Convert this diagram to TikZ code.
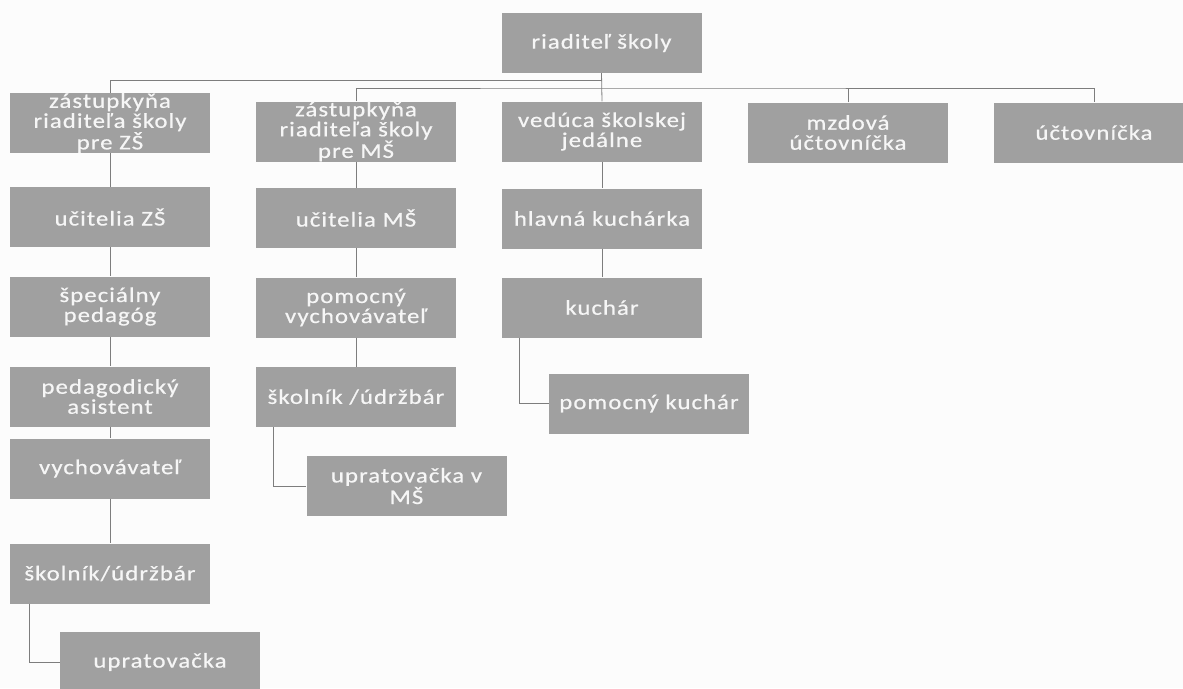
\documentclass[tikz,border=0pt]{standalone}
\usepackage{fontspec}
\setmainfont{Carlito}
\newfontfamily\boxfont{Carlito}[FakeStretch=1.18,LetterSpace=5,FakeBold=0.6]
\definecolor{boxgray}{RGB}{160,160,160}
\definecolor{linegray}{RGB}{125,125,125}
\definecolor{boxtext}{RGB}{246,246,246}
\definecolor{paper}{RGB}{252,252,252}

\begin{document}
\begin{tikzpicture}[x=1pt,y=-1pt,
    box/.style={fill=boxgray,text=boxtext,minimum width=200pt,minimum height=60pt,
      inner sep=0pt,align=center,font=\boxfont\fontsize{21}{20}\selectfont},
    link/.style={draw=linegray,line width=0.8pt}]
              \fill[paper] (0,0) rectangle (1183,688);
              \useasboundingbox (0,0) rectangle (1183,688);

              % top
              \node[box] (boss) at (601.5,43) {riaditeľ školy};

              % first row
              \node[box] (zsz) at (110,123) {zástupkyňa\\riaditeľa školy\\pre ZŠ};
              \node[box] (zms) at (356,131.5) {zástupkyňa\\riaditeľa školy\\pre MŠ};
              \node[box] (ved) at (602,131.5) {vedúca školskej\\jedálne};
              \node[box] (mzd) at (848,132.5) {mzdová\\účtovníčka};
              \node[box] (uct) at (1094,132.5) {účtovníčka};

              % ZS column
              \node[box] (uzs) at (110,217) {učitelia ZŠ};
              \node[box] (spp) at (110,306.5) {špeciálny\\pedagóg};
              \node[box] (pas) at (110,396.5) {pedagodický\\asistent};
              \node[box] (vyc) at (110,468.5) {vychovávateľ};
              \node[box] (skz) at (110,573.5) {školník/údržbár};
              \node[box] (upz) at (160,662) {upratovačka};

              % MS column
              \node[box] (ums) at (356,218) {učitelia MŠ};
              \node[box] (pvy) at (356,307.5) {pomocný\\vychovávateľ};
              \node[box] (skm) at (356,397) {školník /údržbár};
              \node[box] (upm) at (406.5,486) {upratovačka v\\MŠ};

              % kitchen column
              \node[box] (hku) at (602,218.5) {hlavná kuchárka};
              \node[box] (kuc) at (602,307.5) {kuchár};
              \node[box] (pku) at (649,403.5) {pomocný kuchár};

              % buses
              \coordinate (busa) at (602,80);
              \coordinate (busb) at (602,88);

              \draw[link] (boss.south) -- (ved.north);
              \draw[link] (zsz.north) |- (busa);
              \draw[link] (zms.north) |- (busb) -| (uct.north);
              \draw[link] (mzd.north) -- (mzd.north |- busb);

              \draw[link] (zsz) -- (uzs);
              \draw[link] (uzs) -- (spp);
              \draw[link] (spp) -- (pas);
              \draw[link] (pas) -- (vyc);
              \draw[link] (vyc) -- (skz);
              \draw[link] ([xshift=20pt]skz.south west) |- (upz.west);

              \draw[link] (zms) -- (ums);
              \draw[link] (ums) -- (pvy);
              \draw[link] (pvy) -- (skm);
              \draw[link] ([xshift=18pt]skm.south west) |- (upm.west);

              \draw[link] (ved) -- (hku);
              \draw[link] (hku) -- (kuc);
              \draw[link] ([xshift=18pt]kuc.south west) |- (pku.west);
\end{tikzpicture}
\end{document}
